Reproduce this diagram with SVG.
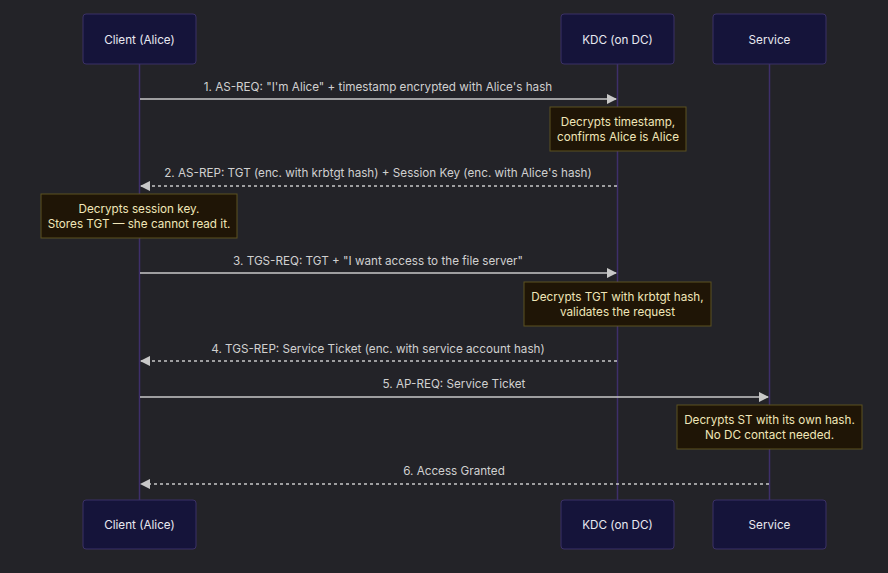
<svg xmlns="http://www.w3.org/2000/svg" width="888" height="573" viewBox="0 0 888 573">
<style>
text{font-family:"Inter","Liberation Sans",sans-serif;font-size:11.7px;text-anchor:middle}
.actor rect{fill:#15143a;stroke:#3b3166;stroke-width:1}
.actor text{fill:#e8e8f0}
.life{stroke:#3e2f6a;stroke-width:1.5}
.msg{stroke:#c8c8c8;stroke-width:1.5;fill:none}
.dash{stroke-dasharray:3,3}
.lbl{fill:#d0d0d0}
.note rect{fill:#1f1506;stroke:#5c5220;stroke-width:1}
.note text{fill:#f0e6b8}
</style>
<defs><marker id="ah" viewBox="0 0 10 10" refX="9" refY="5" markerWidth="7" markerHeight="7" orient="auto-start-reverse"><path d="M0,0L10,5L0,10z" fill="#c8c8c8"/></marker></defs>
<rect width="888" height="573" fill="#232328"/>
<g id="lifelines">
<line class="life" x1="139.5" y1="64" x2="139.5" y2="500"/>
<line class="life" x1="617.5" y1="64" x2="617.5" y2="500"/>
<line class="life" x1="769.5" y1="64" x2="769.5" y2="500"/>
</g>
<g id="client" class="actor"><rect x="83" y="14" width="113" height="50" rx="3"/><text x="139.5" y="44">Client (Alice)</text></g>
<g id="kdc" class="actor"><rect x="561" y="14" width="113" height="50" rx="3"/><text x="617.5" y="44">KDC (on DC)</text></g>
<g id="service" class="actor"><rect x="713" y="14" width="113" height="50" rx="3"/><text x="769.5" y="44">Service</text></g>
<g id="client-bottom" class="actor"><rect x="83" y="500" width="113" height="49" rx="3"/><text x="139.5" y="529">Client (Alice)</text></g>
<g id="kdc-bottom" class="actor"><rect x="561" y="500" width="113" height="49" rx="3"/><text x="617.5" y="529">KDC (on DC)</text></g>
<g id="service-bottom" class="actor"><rect x="713" y="500" width="113" height="49" rx="3"/><text x="769.5" y="529">Service</text></g>
<g id="connectors">
<line class="msg" x1="140" y1="99" x2="616" y2="99" marker-end="url(#ah)"/>
<text class="lbl" x="378" y="91">1. AS-REQ: "I'm Alice" + timestamp encrypted with Alice's hash</text>
<line class="msg dash" x1="617" y1="186" x2="141" y2="186" marker-end="url(#ah)"/>
<text class="lbl" x="378" y="177">2. AS-REP: TGT (enc. with krbtgt hash) + Session Key (enc. with Alice's hash)</text>
<line class="msg" x1="140" y1="273" x2="616" y2="273" marker-end="url(#ah)"/>
<text class="lbl" x="378" y="265">3. TGS-REQ: TGT + "I want access to the file server"</text>
<line class="msg dash" x1="617" y1="361" x2="141" y2="361" marker-end="url(#ah)"/>
<text class="lbl" x="378" y="353">4. TGS-REP: Service Ticket (enc. with service account hash)</text>
<line class="msg" x1="140" y1="397" x2="768" y2="397" marker-end="url(#ah)"/>
<text class="lbl" x="454" y="388">5. AP-REQ: Service Ticket</text>
<line class="msg dash" x1="769" y1="484" x2="141" y2="484" marker-end="url(#ah)"/>
<text class="lbl" x="454" y="475">6. Access Granted</text>
</g>
<g id="note1" class="note"><rect x="550" y="107" width="136" height="44"/><text x="618" y="126">Decrypts timestamp,</text><text x="618" y="141">confirms Alice is Alice</text></g>
<g id="note2" class="note"><rect x="41" y="194" width="196" height="44"/><text x="139" y="213">Decrypts session key.</text><text x="139" y="228">Stores TGT — she cannot read it.</text></g>
<g id="note3" class="note"><rect x="524" y="282" width="187" height="44"/><text x="617.5" y="301">Decrypts TGT with krbtgt hash,</text><text x="617.5" y="316">validates the request</text></g>
<g id="note4" class="note"><rect x="677" y="405" width="185" height="44"/><text x="769.5" y="424">Decrypts ST with its own hash.</text><text x="769.5" y="439">No DC contact needed.</text></g>
</svg>
